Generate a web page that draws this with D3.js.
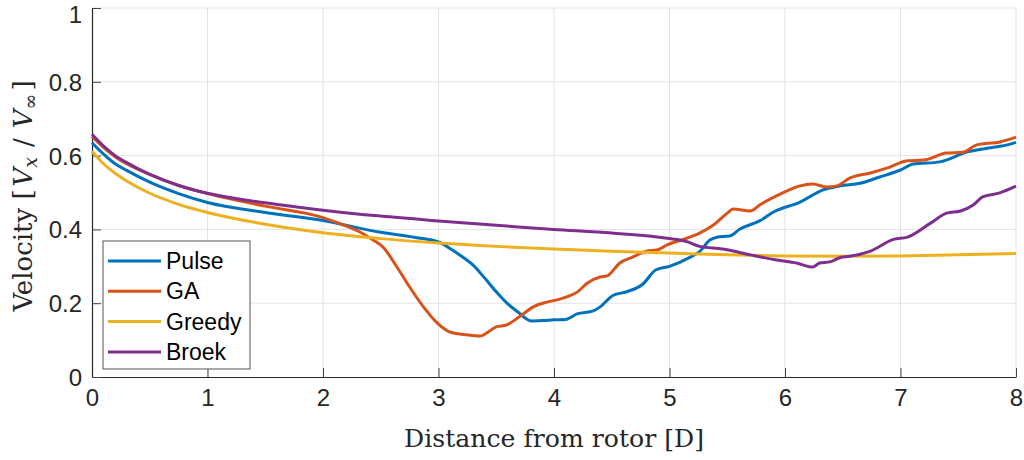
<!DOCTYPE html>
<html>
<head>
<meta charset="utf-8">
<script src="https://cdn.jsdelivr.net/npm/d3@7"></script>
<style>
  body { margin: 0; background: #fff; }
  svg { display: block; }
</style>
</head>
<body>
<div id="chart"></div>
<script>
// series data
const pulseX = [0,0.1,0.2,0.3,0.5,0.75,1,1.5,2,2.5,2.8,3,3.13,3.2,3.3,3.4,3.5,3.6,3.7,3.75,3.8,3.9,4,4.1,4.2,4.34,4.4,4.51,4.63,4.77,4.88,5,5.18,5.26,5.35,5.41,5.52,5.61,5.78,5.9,6.13,6.33,6.48,6.65,6.82,7,7.11,7.34,7.58,7.75,7.95,8];
const pulseY = [0.635,0.604,0.578,0.56,0.528,0.497,0.473,0.446,0.424,0.392,0.378,0.366,0.342,0.327,0.303,0.268,0.231,0.198,0.173,0.16,0.152,0.153,0.155,0.156,0.171,0.179,0.19,0.221,0.231,0.252,0.29,0.3,0.325,0.34,0.371,0.379,0.382,0.401,0.423,0.447,0.474,0.507,0.518,0.525,0.542,0.561,0.577,0.583,0.61,0.62,0.631,0.636];

const gaX = [0,0.1,0.2,0.3,0.5,0.75,1,1.5,2,2.15,2.32,2.43,2.52,2.64,2.75,2.87,2.99,3.1,3.25,3.36,3.42,3.5,3.59,3.7,3.82,3.94,4.05,4.11,4.2,4.29,4.4,4.46,4.57,4.68,4.8,4.89,4.98,5.15,5.26,5.38,5.5,5.55,5.7,5.78,5.98,6.13,6.24,6.36,6.45,6.56,6.74,6.88,7.06,7.2,7.4,7.54,7.66,7.86,8];
const gaY = [0.652,0.622,0.597,0.578,0.549,0.519,0.497,0.463,0.432,0.415,0.393,0.372,0.352,0.298,0.244,0.19,0.146,0.122,0.114,0.111,0.12,0.136,0.141,0.163,0.19,0.203,0.211,0.217,0.23,0.255,0.271,0.274,0.309,0.325,0.341,0.344,0.358,0.376,0.39,0.412,0.444,0.455,0.45,0.466,0.499,0.518,0.523,0.515,0.518,0.539,0.553,0.566,0.586,0.588,0.607,0.609,0.629,0.637,0.65];

const greedyX = [0,0.1,0.2,0.3,0.5,0.75,1,1.5,2,2.5,3,3.5,4,4.5,5,5.5,6,6.5,7,7.5,8];
const greedyY = [0.612,0.578,0.552,0.531,0.498,0.468,0.446,0.414,0.391,0.375,0.363,0.354,0.347,0.341,0.336,0.331,0.328,0.327,0.328,0.331,0.335];

const broekX = [0,0.1,0.2,0.3,0.5,0.75,1,1.5,2,2.5,3,3.5,4,4.5,4.98,5.15,5.26,5.46,5.7,5.93,6.1,6.24,6.3,6.39,6.48,6.56,6.74,6.94,7.06,7.26,7.4,7.52,7.63,7.71,7.86,8];
const broekY = [0.658,0.626,0.6,0.581,0.549,0.519,0.498,0.472,0.452,0.436,0.423,0.411,0.4,0.39,0.376,0.367,0.354,0.347,0.331,0.317,0.309,0.298,0.309,0.312,0.324,0.327,0.341,0.373,0.379,0.417,0.444,0.45,0.466,0.488,0.499,0.517];

const seriesNames = ["Pulse", "GA", "Greedy", "Broek"];
const seriesColors = ["#0072BD", "#D95319", "#EDB120", "#7E2F8E"];
const xTicks = [0,1,2,3,4,5,6,7,8];
const yTicks = [0,0.2,0.4,0.6,0.8,1];

const width = 1024, height = 460;
const margin = {top: 8, right: 8, bottom: 83, left: 92};
const w = width - margin.left - margin.right;
const h = height - margin.top - margin.bottom;

const svg = d3.select("#chart").append("svg")
  .attr("width", width)
  .attr("height", height);

const g = svg.append("g")
  .attr("transform", "translate(" + margin.left + "," + margin.top + ")");

const x = d3.scaleLinear().domain([0, 8]).range([0, w]);
const y = d3.scaleLinear().domain([0, 1]).range([h, 0]);

// grid
g.append("g").selectAll("line").data(xTicks.slice(1)).join("line")
  .attr("x1", d => x(d)).attr("x2", d => x(d))
  .attr("y1", 0).attr("y2", h)
  .attr("stroke", "#e3e3e3").attr("stroke-width", 1);
g.append("g").selectAll("line").data(yTicks.slice(1)).join("line")
  .attr("x1", 0).attr("x2", w)
  .attr("y1", d => y(d)).attr("y2", d => y(d))
  .attr("stroke", "#e3e3e3").attr("stroke-width", 1);

// axes
const xAxis = d3.axisBottom(x).tickValues(xTicks).tickFormat(d3.format("d"))
  .tickSizeInner(-9).tickSizeOuter(0).tickPadding(20);
const yAxis = d3.axisLeft(y).tickValues(yTicks).tickFormat(d => d === 0 || d === 1 ? d : d3.format(".1f")(d))
  .tickSizeInner(-9).tickSizeOuter(0).tickPadding(20);

const gx = g.append("g").attr("transform", "translate(0," + h + ")").call(xAxis);
const gy = g.append("g").call(yAxis);

[gx, gy].forEach(a => {
  a.select(".domain").attr("stroke", "#262626").attr("stroke-width", 1.2);
  a.selectAll(".tick line").attr("stroke", "#444").attr("stroke-width", 1);
  a.selectAll(".tick text")
    .attr("fill", "#262626")
    .style("font-family", "'Liberation Sans', Arial, sans-serif")
    .style("font-size", "24px");
});
gy.selectAll(".tick text").attr("x", -10).attr("dy", "0.35em");
// top label sits at the page edge, nudge it down a little so it stays whole
gy.selectAll(".tick text").filter(d => d === 1).attr("dy", "0.6em");
gx.selectAll(".tick text").attr("y", 12).attr("dy", "0.71em");

// lines
const allX = [pulseX, gaX, greedyX, broekX];
const allY = [pulseY, gaY, greedyY, broekY];
const line = d3.line()
  .x(d => x(d[0]))
  .y(d => y(d[1]))
  .curve(d3.curveMonotoneX);

allX.forEach((xs, i) => {
  const pts = xs.map((v, j) => [v, allY[i][j]]);
  g.append("path")
    .datum(pts)
    .attr("fill", "none")
    .attr("stroke", seriesColors[i])
    .attr("stroke-width", 3)
    .attr("stroke-linejoin", "round")
    .attr("d", line);
});

// axis labels
svg.append("text")
  .attr("x", margin.left + w / 2)
  .attr("y", 447)
  .attr("text-anchor", "middle")
  .attr("fill", "#262626")
  .style("font-family", "'DejaVu Serif', serif")
  .style("font-size", "24px")
  .attr("textLength", 300)
  .attr("lengthAdjust", "spacingAndGlyphs")
  .text("Distance from rotor [D]");

const yl = svg.append("text")
  .attr("transform", "translate(32,196) rotate(-90)")
  .attr("text-anchor", "middle")
  .attr("fill", "#262626")
  .style("font-family", "'DejaVu Serif', serif")
  .style("font-size", "26px");
yl.append("tspan").text("Velocity [");
yl.append("tspan").attr("dx", 3).style("font-style", "italic").text("V");
yl.append("tspan").attr("dy", 5).style("font-style", "italic").style("font-size", "19px").text("x");
yl.append("tspan").attr("dy", -5).attr("dx", 10).text("/");
yl.append("tspan").attr("dx", 10).style("font-style", "italic").text("V");
yl.append("tspan").attr("dy", 5).style("font-size", "19px").text("\u221E");
yl.append("tspan").attr("dy", -5).attr("dx", 3).text("]");

// legend
const lg = g.append("g").attr("transform", "translate(" + (103 - margin.left) + "," + (241 - margin.top) + ")");
lg.append("rect")
  .attr("width", 147).attr("height", 128)
  .attr("fill", "#fff")
  .attr("stroke", "#555").attr("stroke-width", 1);
seriesNames.forEach((name, i) => {
  const yy = 20 + i * 30.3;
  lg.append("line")
    .attr("x1", 5).attr("x2", 58)
    .attr("y1", yy).attr("y2", yy)
    .attr("stroke", seriesColors[i]).attr("stroke-width", 3);
  lg.append("text")
    .attr("x", 63).attr("y", yy).attr("dy", "0.35em")
    .attr("fill", "#000")
    .style("font-family", "'Liberation Sans', Arial, sans-serif")
    .style("font-size", "23px")
    .text(name);
});
</script>
</body>
</html>
